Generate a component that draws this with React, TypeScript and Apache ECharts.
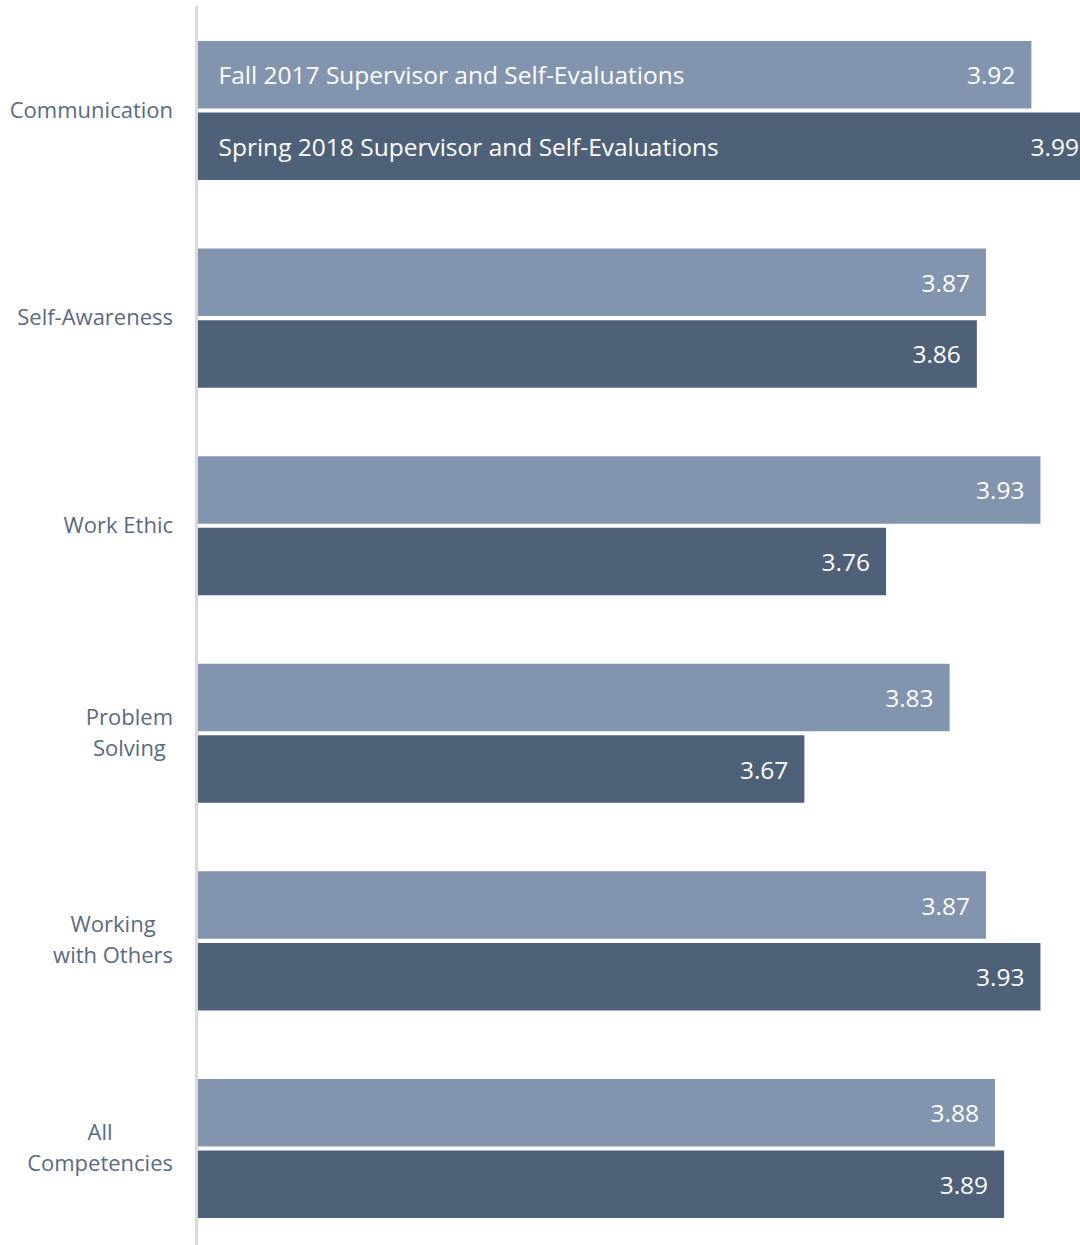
import React, { useEffect, useRef } from "react";
import * as echarts from "echarts";

const categories = [
  "Communication",
  "Self-Awareness",
  "Work Ethic",
  "Problem\nSolving",
  "Working\nwith Others",
  "All\nCompetencies",
];
const seriesNames = [
  "Fall 2017 Supervisor and Self-Evaluations",
  "Spring 2018 Supervisor and Self-Evaluations",
];
const fall2017 = [3.92, 3.87, 3.93, 3.83, 3.87, 3.88];
const spring2018 = [3.99, 3.86, 3.76, 3.67, 3.93, 3.89];
const axisMin = 3;
const axisMax = 4;

const FONT = "'Open Sans', 'Noto Sans', sans-serif";
const COLORS = ["#8394AE", "#4F6079"];

export default function App() {
  const ref = useRef<HTMLDivElement>(null);
  useEffect(() => {
    if (!ref.current) return;
    const chart = echarts.init(ref.current, undefined, { renderer: "svg" });
    const mkSeries = (name: string, data: number[], color: string) => ({
      type: "bar",
      name,
      data,
      barCategoryGap: "33%",
      barGap: "6%",
      itemStyle: { color },
      label: {
        show: true,
        position: "insideRight",
        distance: 16,
        color: "#ffffff",
        fontSize: 24.5,
        fontFamily: FONT,
        formatter: (p: any) => p.value.toFixed(2),
      },
      markPoint: {
        symbol: "rect",
        symbolSize: 1,
        itemStyle: { color: "rgba(0,0,0,0)" },
        label: {
          show: true,
          position: "right",
          distance: 22,
          color: "#ffffff",
          fontSize: 24.5,
          fontFamily: FONT,
          formatter: () => name,
        },
        data: [{ coord: [axisMin, categories[0]] }],
      },
    });
    chart.setOption({
      animation: false,
      grid: {
        left: 196,
        width: 908,
        top: 6.7,
        height: 1245.6,
        containLabel: false,
        outerBoundsMode: "none",
      },
      xAxis: { type: "value", min: axisMin, max: axisMax, show: false },
      yAxis: {
        type: "category",
        data: categories,
        inverse: true,
        z: 5,
        axisLine: { show: true, lineStyle: { color: "#D9D9D9", width: 3 } },
        axisTick: { show: false },
        splitLine: { show: false },
        axisLabel: {
          margin: 23,
          padding: [0, 0, 4, 0],
          formatter: (v: string) => v.split("\n").map((l) => `{c|${l}}`).join("\n"),
          rich: {
            c: {
              align: "center",
              fontSize: 22,
              lineHeight: 31,
              color: "#5A6A82",
              fontFamily: FONT,
            },
          },
        },
      },
      series: [
        mkSeries(seriesNames[0], fall2017, COLORS[0]),
        mkSeries(seriesNames[1], spring2018, COLORS[1]),
      ],
    });
    return () => chart.dispose();
  }, []);
  return <div ref={ref} style={{ width: 1080, height: 1245, position: "absolute", left: 0, top: 0 }} />;
}
